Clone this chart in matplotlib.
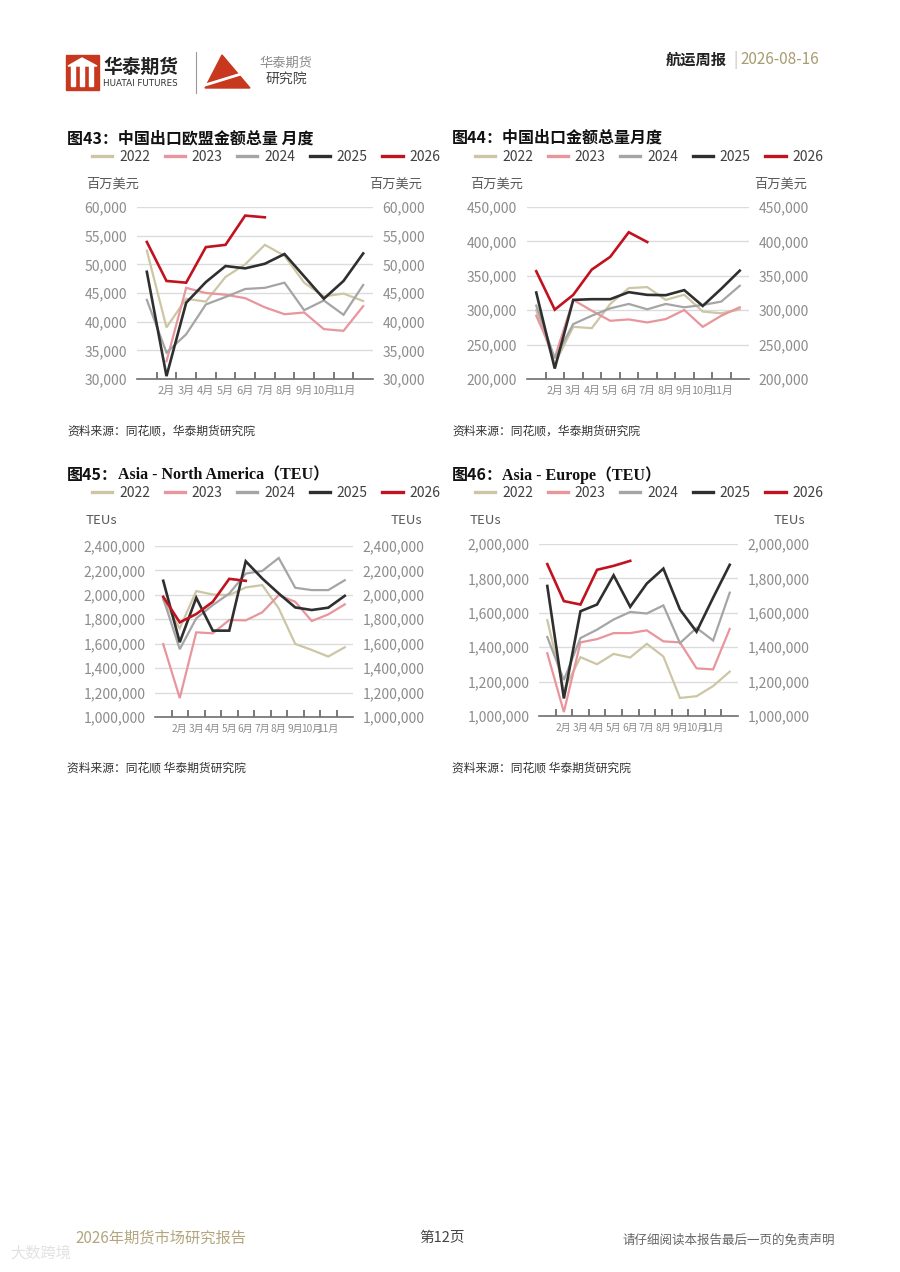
import numpy as np
import matplotlib
matplotlib.use('Agg')
import matplotlib.pyplot as plt
from matplotlib.ticker import FuncFormatter, FixedLocator
from matplotlib.patches import Rectangle, Polygon

plt.rcParams['font.family'] = ['Noto Sans CJK SC', 'DejaVu Sans']

nan = np.nan

# x categories (only 2月..11月 fit under the axis in the original)
months = ['1月', '2月', '3月', '4月', '5月', '6月', '7月', '8月', '9月', '10月', '11月', '12月']
years = ['2022', '2023', '2024', '2025', '2026']

# Fig 43: China exports to EU, USD mn
eu_2022 = [52400, 39000, 44000, 43500, 47800, 50000, 53400, 51500, 46800, 44400, 44900, 43600]
eu_2023 = [nan, 33100, 45900, 45000, 44700, 44100, 42500, 41300, 41600, 38700, 38400, 42700]
eu_2024 = [43800, 34600, 37800, 43000, 44300, 45700, 45900, 46800, 42000, 43700, 41200, 46400]
eu_2025 = [48700, 30500, 43300, 46900, 49700, 49300, 50100, 51800, 47900, 44000, 47100, 51900]
eu_2026 = [53900, 47100, 46800, 53000, 53400, 58500, 58200]

# Fig 44: China total exports, USD mn
tot_2022 = [300000, 222000, 275800, 273900, 309100, 332100, 333600, 315000, 322500, 298000, 295500, 301000]
tot_2023 = [292000, 231000, 315000, 299300, 284600, 286600, 282200, 287100, 300300, 275800, 292000, 304200]
tot_2024 = [306700, 230000, 279800, 292000, 302700, 309100, 301300, 309100, 304200, 307600, 312500, 335500]
tot_2025 = [325700, 215200, 315000, 316000, 316000, 326200, 322300, 321800, 329200, 306200, 331100, 357500]
tot_2026 = [356600, 300800, 322300, 359000, 377600, 413300, 399100]

# Fig 45: Asia - North America, TEU
na_2022 = [1957000, 1726000, 2031000, 2003000, 1998000, 2061000, 2080000, 1889000, 1598000, 1549000, 1495000, 1571000]
na_2023 = [1596000, 1155000, 1693000, 1685000, 1794000, 1791000, 1857000, 1998000, 1943000, 1786000, 1840000, 1922000]
na_2024 = [1971000, 1555000, 1808000, 1916000, 2011000, 2174000, 2196000, 2302000, 2058000, 2039000, 2039000, 2120000]
na_2025 = [2115000, 1612000, 1976000, 1707000, 1707000, 2275000, 2134000, 2011000, 1897000, 1876000, 1895000, 1992000]
na_2026 = [1984000, 1775000, 1843000, 1943000, 2131000, 2115000]

# Fig 46: Asia - Europe, TEU
ae_2022 = [1557000, 1150000, 1342000, 1301000, 1361000, 1340000, 1420000, 1346000, 1105000, 1115000, 1174000, 1258000]
ae_2023 = [1365000, 1023000, 1428000, 1447000, 1482000, 1482000, 1498000, 1434000, 1428000, 1277000, 1271000, 1506000]
ae_2024 = [1459000, 1209000, 1453000, 1502000, 1561000, 1605000, 1596000, 1643000, 1424000, 1512000, 1439000, 1717000]
ae_2025 = [1756000, 1102000, 1609000, 1648000, 1818000, 1635000, 1770000, 1857000, 1619000, 1490000, 1688000, 1879000]
ae_2026 = [1883000, 1668000, 1648000, 1850000, 1873000, 1902000]

colors = ['#cdc6a4', '#e8959b', '#a5a5a5', '#2f2f2f', '#c1121f']
widths = [1.6, 1.6, 1.6, 1.9, 1.9]

W, H = 900, 1272
fig = plt.figure(figsize=(W / 100, H / 100), dpi=100)
fig.patch.set_facecolor('white')


def fx(x):
    return x / W


def fy(y):
    return 1 - y / H


def px_rect(l, t, r, b):
    return [l / W, 1 - b / H, (r - l) / W, (b - t) / H]


fmt = FuncFormatter(lambda v, p: f'{int(v):,}')
tick_grey = '#8c8c8c'


def make_chart(box, series, ylim, ystep, unit, unit_pos, title, title_pos, legend_pos, source, src_pos,
               en_title=None, en_x=None, xlab_size=8):
    ax = fig.add_axes(px_rect(*box))
    x = np.arange(len(months))
    handles = []
    for vals, c, lw, lab in zip(series, colors, widths, years):
        v = np.full(len(months), np.nan)
        v[:len(vals)] = vals
        ln, = ax.plot(x, v, color=c, lw=lw, label=lab, solid_joinstyle='miter', zorder=3)
        handles.append(ln)
    ax.set_xlim(-0.5, len(months) - 0.5)
    ax.set_ylim(*ylim)
    yt = np.arange(ylim[0], ylim[1] + 1, ystep)
    ax.set_yticks(yt)
    ax.yaxis.set_major_formatter(fmt)
    ax.grid(axis='y', color='#dcdcdc', lw=1.0, zorder=0)
    for s in ['top', 'left', 'right']:
        ax.spines[s].set_visible(False)
    ax.spines['bottom'].set_color('#6e6e6e')
    ax.spines['bottom'].set_linewidth(1.2)
    ax.spines['bottom'].set_zorder(4)
    ax.set_xticks(x)
    ax.set_xticklabels([''] + months[1:11] + [''])
    ax.xaxis.set_minor_locator(FixedLocator(np.arange(0.5, len(months) - 1, 1.0)))
    ax.tick_params(axis='x', which='major', length=0, pad=5, labelsize=xlab_size, labelcolor=tick_grey)
    ax.tick_params(axis='x', which='minor', direction='in', length=5, width=1.1, color='#555555')
    ax.tick_params(axis='y', length=0, pad=7, labelsize=10, labelcolor=tick_grey)
    ax2 = ax.twinx()
    ax2.set_ylim(*ylim)
    ax2.set_yticks(yt)
    ax2.yaxis.set_major_formatter(fmt)
    ax2.tick_params(axis='y', length=0, pad=7, labelsize=10, labelcolor=tick_grey)
    for s in ax2.spines.values():
        s.set_visible(False)

    # units
    fig.text(fx(unit_pos[0]), fy(unit_pos[2]), unit, fontsize=9.5, color='#595959', va='center', ha='left')
    fig.text(fx(unit_pos[1]), fy(unit_pos[2]), unit, fontsize=9.5, color='#595959', va='center', ha='right')

    # title
    fig.text(fx(title_pos[0]), fy(title_pos[1]), title, fontsize=11.5, fontweight='bold', color='#111111', va='center', ha='left')
    if en_title:
        fig.text(fx(en_x), fy(title_pos[1]), en_title, fontsize=11.5, fontweight='bold', color='#111111',
                 va='center', ha='left', family=['Liberation Serif', 'Noto Sans CJK SC'])

    leg = fig.legend(handles=handles, loc='center left', bbox_to_anchor=(fx(legend_pos[0]), fy(legend_pos[1])),
                     ncol=5, frameon=False, fontsize=10, handlelength=1.45, handletextpad=0.5,
                     columnspacing=1.05, borderpad=0, borderaxespad=0, labelcolor='#404040')
    for lh in leg.get_lines():
        lh.set_linewidth(2.4)

    fig.text(fx(src_pos[0]), fy(src_pos[1]), source, fontsize=8.5, color='#333333', va='center', ha='left', style='italic')
    return ax


make_chart((137, 207, 373, 379), [eu_2022, eu_2023, eu_2024, eu_2025, eu_2026], (30000, 60000), 5000,
           '百万美元', (86, 422, 184), '图43：中国出口欧盟金额总量 月度', (67, 138), (92, 157),
           '资料来源：同花顺，华泰期货研究院', (67, 431))
make_chart((527, 207, 749, 379), [tot_2022, tot_2023, tot_2024, tot_2025, tot_2026], (200000, 450000), 50000,
           '百万美元', (470, 807, 184), '图44：中国出口金额总量月度', (452, 138), (475, 157),
           '资料来源：同花顺，华泰期货研究院', (452, 431), xlab_size=7.8)
make_chart((155, 546, 353, 717), [na_2022, na_2023, na_2024, na_2025, na_2026], (1000000, 2400000), 200000,
           'TEUs', (86, 422, 520), '图45：', (67, 475), (92, 493),
           '资料来源：同花顺 华泰期货研究院', (67, 768), 'Asia - North America（TEU）', 118, xlab_size=7.3)
make_chart((539, 544, 738, 716), [ae_2022, ae_2023, ae_2024, ae_2025, ae_2026], (1000000, 2000000), 200000,
           'TEUs', (470, 805, 520), '图46：', (452, 475), (475, 493),
           '资料来源：同花顺 华泰期货研究院', (452, 768), 'Asia - Europe（TEU）', 502, xlab_size=7.3)

# header: simple logo shapes
logo_red = '#c8381e'
fig.patches.append(Rectangle((fx(66), fy(90)), fx(33), 35 / H, transform=fig.transFigure, color=logo_red))
for bx in [71, 80, 89]:
    fig.patches.append(Rectangle((fx(bx), fy(86)), fx(4), 20 / H, transform=fig.transFigure, color='white'))
fig.patches.append(Polygon([(fx(68), fy(66)), (fx(82), fy(58)), (fx(97), fy(66))], closed=True,
                           transform=fig.transFigure, color='white'))
fig.text(fx(103), fy(67), '华泰期货', fontsize=13.5, fontweight='bold', color='#222222', va='center')
fig.text(fx(103), fy(84), 'HUATAI FUTURES', fontsize=6.3, color='#333333', va='center', family=['DejaVu Sans'])
fig.add_artist(plt.Line2D([fx(196), fx(196)], [fy(52), fy(93)], transform=fig.transFigure, color='#999999', lw=0.8))
fig.patches.append(Polygon([(fx(222), fy(55)), (fx(250), fy(88)), (fx(205), fy(88))], closed=True,
                           transform=fig.transFigure, color=logo_red))
fig.add_artist(plt.Line2D([fx(202), fx(254)], [fy(86), fy(70)], transform=fig.transFigure, color='white', lw=2))
fig.text(fx(259), fy(63), '华泰期货', fontsize=9.5, color='#8a8a8a', va='center')
fig.text(fx(266), fy(79), '研究院', fontsize=10, color='#444444', va='center')
fig.text(fx(727), fy(60), '航运周报', fontsize=11, fontweight='bold', color='#222222', va='center', ha='right')
fig.text(fx(733), fy(60), '|', fontsize=11, color='#c8c0a8', va='center', ha='left')
fig.text(fx(740), fy(60), '2026-08-16', fontsize=11, color='#a89c72', va='center', ha='left')

# footer
fig.text(fx(75), fy(1238), '2026年期货市场研究报告', fontsize=11, color='#b3a67e', va='center')
fig.text(fx(442), fy(1238), '第12页', fontsize=10.5, color='#444444', va='center', ha='center')
fig.text(fx(835), fy(1240), '请仔细阅读本报告最后一页的免责声明', fontsize=9, color='#666666', va='center', ha='right')
fig.text(fx(10), fy(1253), '大数跨境', fontsize=11, color='#e2e2e2', va='center', ha='left')

fig.savefig('out.png', dpi=100, facecolor='white')
